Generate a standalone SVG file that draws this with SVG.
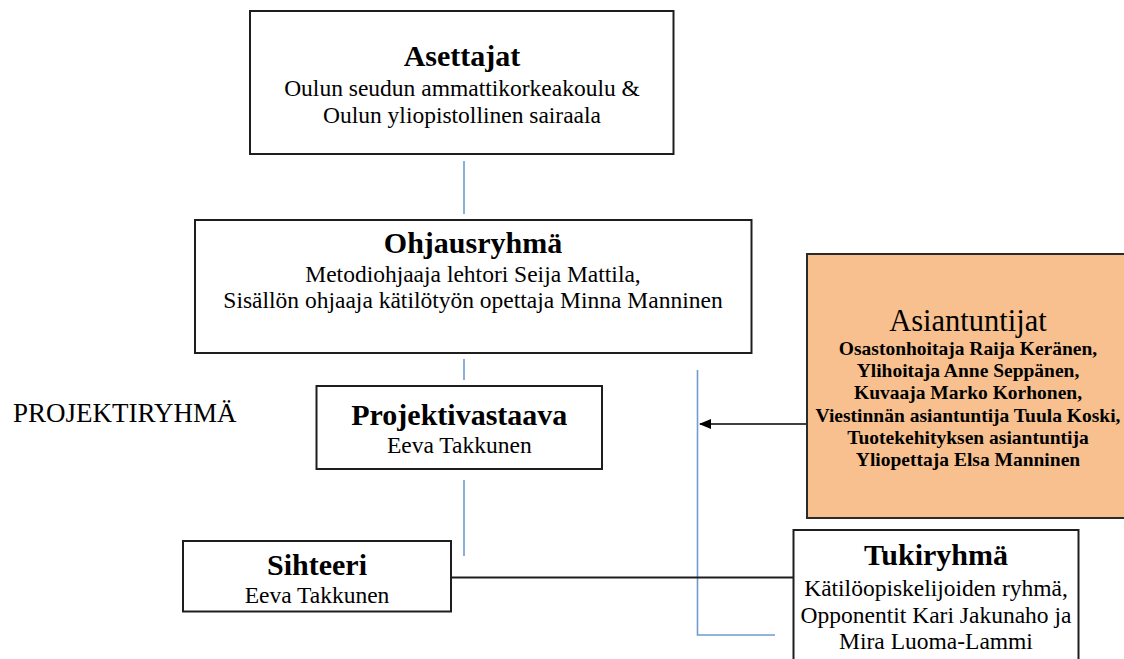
<svg xmlns="http://www.w3.org/2000/svg" width="1124" height="659" viewBox="0 0 1124 659">
<defs>
<style>
.box{fill:#ffffff;stroke:#1e1e1e;stroke-width:2}
.org{fill:#F8C08E;stroke:#2a2a2a;stroke-width:2}
.t{font-family:"Liberation Serif","Times New Roman",serif;fill:#000;text-anchor:middle}
.h{font-weight:bold;font-size:30px}
.b{font-size:23.5px}
.s{font-weight:bold;font-size:19.5px}
.blue{stroke:#6F9BD1;stroke-width:1.6;fill:none}
.blk{stroke:#1e1e1e;stroke-width:2;fill:none}
</style>
<marker id="arr" markerWidth="12" markerHeight="10" refX="11" refY="5" orient="auto" markerUnits="userSpaceOnUse">
<path d="M0,0 L12,5 L0,10 Z" fill="#000"/>
</marker>
</defs>
<rect width="1124" height="659" fill="#ffffff"/>
<g id="connectors">
<line class="blue" x1="464" y1="161" x2="464" y2="214"/>
<line class="blue" x1="464" y1="359" x2="464" y2="380"/>
<line class="blue" x1="464" y1="480" x2="464" y2="556"/>
<polyline class="blue" points="697.5,370 697.5,635 775,635"/>
<line class="blk" x1="451" y1="577.5" x2="793" y2="577.5"/>
<line x1="807" y1="424" x2="700" y2="424" stroke="#000" stroke-width="1.6" marker-end="url(#arr)"/>
</g>
<g id="asettajat">
<rect class="box" x="250" y="11" width="423.5" height="143"/>
<text class="t h" x="462" y="66">Asettajat</text>
<text class="t b" x="462" y="96">Oulun seudun ammattikorkeakoulu &amp;</text>
<text class="t b" x="462" y="123">Oulun yliopistollinen sairaala</text>
</g>
<g id="ohjausryhma">
<rect class="box" x="195" y="220" width="556.5" height="133"/>
<text class="t h" x="473" y="253">Ohjausryhmä</text>
<text class="t b" x="473" y="281.5">Metodiohjaaja lehtori Seija Mattila,</text>
<text class="t b" x="473" y="308">Sisällön ohjaaja kätilötyön opettaja Minna Manninen</text>
</g>
<g id="projektiryhma">
<text style="font-family:'Liberation Serif','Times New Roman',serif;font-size:27px" x="13" y="421.5">PROJEKTIRYHMÄ</text>
</g>
<g id="projektivastaava">
<rect class="box" x="316.5" y="386" width="285.5" height="83"/>
<text class="t h" x="459.3" y="425">Projektivastaava</text>
<text class="t b" x="459.3" y="453">Eeva Takkunen</text>
</g>
<g id="sihteeri">
<rect class="box" x="183" y="541" width="268" height="70.5"/>
<text class="t h" x="317" y="574.5">Sihteeri</text>
<text class="t b" x="317" y="602.5">Eeva Takkunen</text>
</g>
<g id="asiantuntijat">
<rect class="org" x="807" y="254" width="330" height="264"/>
<text class="t" style="font-size:30.5px" x="968" y="330.5">Asiantuntijat</text>
<text class="t s" x="968" y="355">Osastonhoitaja Raija Keränen,</text>
<text class="t s" x="968" y="377.2">Ylihoitaja Anne Seppänen,</text>
<text class="t s" x="968" y="399.4">Kuvaaja Marko Korhonen,</text>
<text class="t s" x="968" y="421.6">Viestinnän asiantuntija Tuula Koski,</text>
<text class="t s" x="968" y="443.8">Tuotekehityksen asiantuntija</text>
<text class="t s" x="968" y="466">Yliopettaja Elsa Manninen</text>
</g>
<g id="tukiryhma">
<rect class="box" x="793.5" y="530" width="285" height="140"/>
<text class="t h" x="936" y="565">Tukiryhmä</text>
<text class="t b" x="936" y="596">Kätilöopiskelijoiden ryhmä,</text>
<text class="t b" x="936" y="622.5">Opponentit Kari Jakunaho ja</text>
<text class="t b" x="936" y="649">Mira Luoma-Lammi</text>
</g>
</svg>
